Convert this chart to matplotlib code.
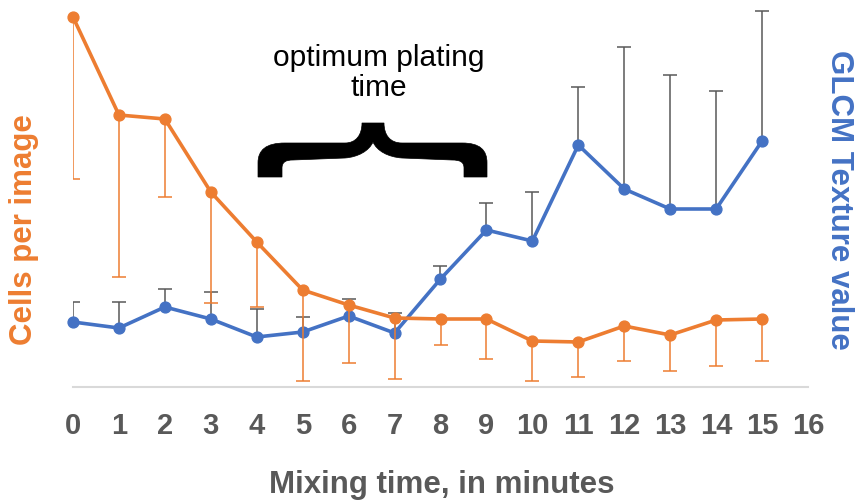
import matplotlib
matplotlib.use('Agg')
import matplotlib.pyplot as plt
import numpy as np
from matplotlib.path import Path
from matplotlib.patches import PathPatch

plt.rcParams['font.family'] = ['Liberation Sans', 'DejaVu Sans']

minutes = list(range(16))

# Cells per image (left axis, arbitrary units)
cells = [74.0, 54.4, 53.6, 39.0, 29.0, 19.4, 16.4, 13.8, 13.6, 13.6, 9.2, 9.0, 12.2, 10.4, 13.4, 13.6]
cells_err_low = [32.4, 32.4, 15.6, 22.2, 13.0, 18.2, 11.6, 12.2, 5.2, 8.0, 8.0, 7.0, 7.0, 7.2, 9.2, 8.4]

# GLCM texture value (right axis)
glcm = [0.065, 0.059, 0.080, 0.068, 0.050, 0.055, 0.071, 0.054, 0.108, 0.157, 0.146, 0.242, 0.198, 0.178, 0.178, 0.246]
glcm_err_high = [0.020, 0.026, 0.018, 0.027, 0.028, 0.015, 0.017, 0.020, 0.013, 0.027, 0.049, 0.058, 0.142, 0.134, 0.118, 0.130]

orange = '#ED7D31'
blue = '#4472C4'
grey = '#595959'

W, H = 859, 504
fig = plt.figure(figsize=(W / 100, H / 100), dpi=100)
ax1 = fig.add_axes([73 / W, (H - 387) / H, (808 - 73) / W, 380 / H])
ax2 = ax1.twinx()

# blue series with upper error bars only
eb2 = ax2.errorbar(minutes, glcm, yerr=[np.zeros(len(glcm)), glcm_err_high],
                   color=blue, lw=2.6, marker='o', ms=7.8,
                   ecolor=grey, elinewidth=1.1, capsize=5, capthick=1.1)
eb2[1][0].set_visible(False)
eb2[0].set_clip_on(False)

# orange series with lower error bars only
eb1 = ax1.errorbar(minutes, cells, yerr=[cells_err_low, np.zeros(len(cells))],
                   color=orange, lw=2.6, marker='o', ms=7.8,
                   ecolor=orange, elinewidth=1.1, capsize=5, capthick=1.1)
eb1[1][1].set_visible(False)
eb1[0].set_clip_on(False)

ax1.set_zorder(ax2.get_zorder() + 1)
ax1.patch.set_visible(False)

ax1.set_xlim(0, 16)
ax1.set_ylim(0, 76)
ax2.set_ylim(0, 0.38)
ax1.set_xticks(range(17))
ax1.set_yticks([])
ax2.set_yticks([])

for ax in (ax1, ax2):
    for s in ['top', 'left', 'right']:
        ax.spines[s].set_visible(False)
ax2.spines['bottom'].set_visible(False)
ax1.spines['bottom'].set_color('#D9D9D9')
ax1.spines['bottom'].set_linewidth(1.5)
ax1.tick_params(axis='x', length=0, pad=18, labelsize=21, labelcolor=grey)
for lbl in ax1.get_xticklabels():
    lbl.set_fontweight('bold')

fig.text(442 / W, (H - 493) / H, 'Mixing time, in minutes', ha='center', va='baseline',
         fontsize=22.5, fontweight='bold', color=grey)
fig.text(24 / W, (H - 230) / H, 'Cells per image', rotation=90, ha='center', va='center',
         fontsize=22.5, fontweight='bold', color=orange)
fig.text(839 / W, (H - 200) / H, 'GLCM Texture value', rotation=270, ha='center', va='center',
         fontsize=22.5, fontweight='bold', color=blue)

fig.text(379 / W, (H - 73) / H, 'optimum plating\ntime', ha='center', va='center',
         fontsize=21.5, color='black', linespacing=1.1)

# curly brace over the optimum interval
pts = [
    (258, 177), (258, 163),
    (258, 150), (266, 143), (285, 143),
    (345, 143),
    (356, 143), (362, 135), (362, 123),
    (384, 123),
    (384, 135), (390, 143), (402, 143),
    (462, 143),
    (480, 143), (487, 150), (487, 163),
    (487, 177), (464, 177), (464, 168),
    (464, 162), (460, 160), (452, 160),
    (402, 158),
    (388, 157), (377, 151), (373, 142),
    (369, 151), (358, 157), (345, 158),
    (293, 160),
    (286, 160), (282, 162), (282, 168),
    (282, 177), (258, 177),
]
codes = [Path.MOVETO, Path.LINETO,
         Path.CURVE4, Path.CURVE4, Path.CURVE4,
         Path.LINETO,
         Path.CURVE4, Path.CURVE4, Path.CURVE4,
         Path.LINETO,
         Path.CURVE4, Path.CURVE4, Path.CURVE4,
         Path.LINETO,
         Path.CURVE4, Path.CURVE4, Path.CURVE4,
         Path.LINETO, Path.LINETO, Path.LINETO,
         Path.CURVE4, Path.CURVE4, Path.CURVE4,
         Path.LINETO,
         Path.CURVE4, Path.CURVE4, Path.CURVE4,
         Path.CURVE4, Path.CURVE4, Path.CURVE4,
         Path.LINETO,
         Path.CURVE4, Path.CURVE4, Path.CURVE4,
         Path.LINETO, Path.CLOSEPOLY]
verts = [(x / W, (H - y) / H) for x, y in pts]
brace = PathPatch(Path(verts, codes), facecolor='black', edgecolor='black', lw=0.5,
                  transform=fig.transFigure)
fig.patches.append(brace)

plt.savefig('out.png', dpi=100)
